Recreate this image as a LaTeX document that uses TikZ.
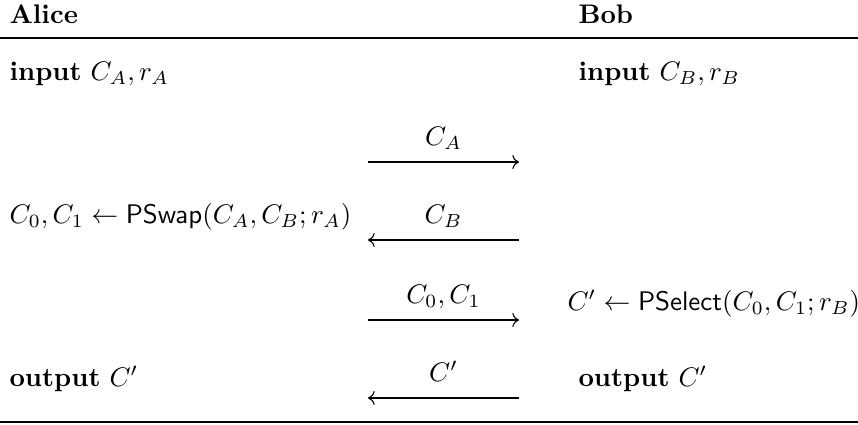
\documentclass[tikz,border=0pt]{standalone}
\usepackage{amsmath,amssymb}
\usepackage{tikz}
\usetikzlibrary{arrows.meta, positioning, calc}

\begin{document}
\begin{tikzpicture}[x=0.372pt, y=-0.372pt,
    party/.style={anchor=base west, inner sep=0pt, font=\bfseries},
    step text/.style={anchor=base west, inner sep=0pt},
    msg/.style={->, line width=0.4pt},
    msglabel/.style={midway, anchor=base, inner sep=0pt, yshift=6.3pt}]
  \useasboundingbox (0,0) rectangle (858,424);
  % header
  \node[party] (alice) at (9,23) {Alice};
  \node[party] (bob) at (578,23) {Bob};
  \draw[line width=0.5pt] (0,38) -- (858,38);
  % inputs
  \node[step text] (inA) at (9,80) {\textbf{input} $C_A, r_A$};
  \node[step text] (inB) at (578,80) {\textbf{input} $C_B, r_B$};
  % messages
  \coordinate (m1l) at (368,162); \coordinate (m1r) at (519,162);
  \coordinate (m2l) at (368,240); \coordinate (m2r) at (519,240);
  \coordinate (m3l) at (368,320); \coordinate (m3r) at (519,320);
  \coordinate (m4l) at (368,398); \coordinate (m4r) at (519,398);
  \draw[msg] (m1l) -- node[msglabel] (lab1) {$C_A$} (m1r);
  \draw[msg] (m2r) -- node[msglabel] (lab2) {$C_B$} (m2l);
  \draw[msg] (m3l) -- node[msglabel] (lab3) {$C_0, C_1$} (m3r);
  \draw[msg] (m4r) -- node[msglabel] (lab4) {$C'$} (m4l);
  % local steps
  \node[step text] (swap) at (9,223) {$C_0, C_1 \leftarrow \mathsf{PSwap}(C_A, C_B; r_A)$};
  \node[step text] (select) at (567,310) {$C' \leftarrow \mathsf{PSelect}(C_0, C_1; r_B)$};
  % outputs
  \node[step text] (outA) at (9,386) {\textbf{output} $C'$};
  \node[step text] (outB) at (578,386) {\textbf{output} $C'$};
  \draw[line width=0.5pt] (0,422) -- (858,422);
\end{tikzpicture}
\end{document}
